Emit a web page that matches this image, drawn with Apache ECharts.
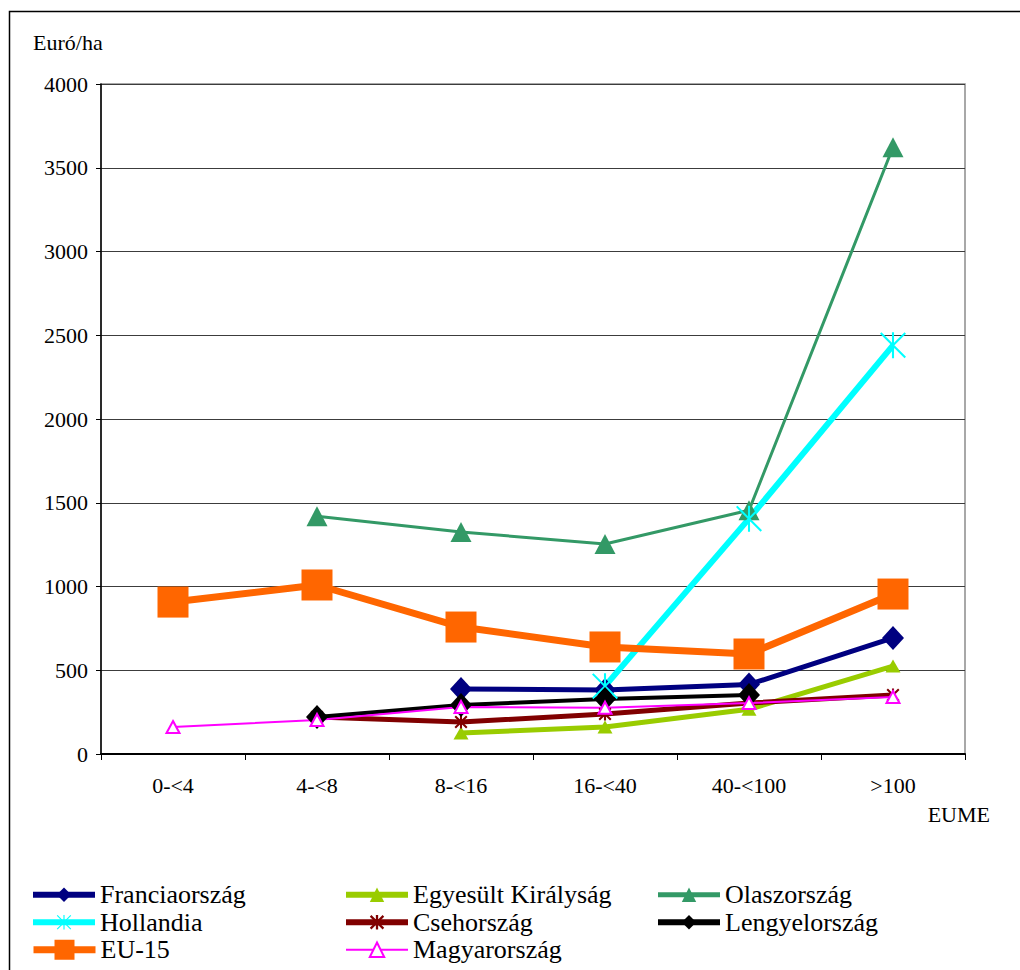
<!DOCTYPE html>
<html>
<head>
<meta charset="utf-8">
<script src="https://cdn.jsdelivr.net/npm/echarts@6/dist/echarts.min.js"></script>
<style>
html,body{margin:0;padding:0;background:#fff;}
#chart{width:1020px;height:970px;}
</style>
</head>
<body>
<div id="chart"></div>
<script>
const categories = ['0-<4', '4-<8', '8-<16', '16-<40', '40-<100', '>100'];
const franciaorszag = [null, null, 388, 382, 415, 693];
const egyesultKiralysag = [null, null, 125, 161, 267, 525];
const olaszorszag = [null, 1420, 1325, 1254, 1455, 3622];
const hollandia = [null, null, null, 405, 1405, 2440];
const csehorszag = [null, 221, 191, 239, 304, 352];
const lengyelorszag = [null, 221, 292, 328, 352, null];
const eu15 = [907, 1009, 758, 639, 597, 955];
const magyarorszag = [161, 203, 281, 276, 304, 340];

const FONT = 'Liberation Serif';
const asterisk = 'path://M46,0L54,0L54,100L46,100Z M0,5.6L5.6,0L100,94.4L94.4,100Z M94.4,0L100,5.6L5.6,100L0,94.4Z';
const asteriskBold = 'path://M42,0L58,0L58,100L42,100Z M0,11L11,0L100,89L89,100Z M89,0L100,11L11,100L0,89Z';

const chart = echarts.init(document.getElementById('chart'), null, {renderer: 'svg'});

function mk(name, data, color, width, symbol, size, extra) {
  return Object.assign({
    name: name, type: 'line', data: data,
    symbol: symbol, symbolSize: size,
    lineStyle: {color: color, width: width},
    itemStyle: {color: color},
    emphasis: {disabled: true},
    animation: false
  }, extra || {});
}

const legendText = {fontFamily: FONT, fontSize: 26, color: '#000', lineHeight: 27.5};
function li(name, w) { return {name: name, lineStyle: {width: w}}; }
const legendBase = {orient: 'vertical', padding: 0, itemWidth: 62, itemHeight: 18, itemGap: 0, textStyle: legendText, selectedMode: false, height: 100};

chart.setOption({
  animation: false,
  backgroundColor: '#fff',
  grid: {left: 101, right: 55, top: 84, bottom: 216, show: true, borderColor: '#8c8c8c', borderWidth: 1.5},
  xAxis: {
    type: 'category', data: categories, boundaryGap: true,
    axisLine: {lineStyle: {color: '#000', width: 2}},
    axisTick: {show: true, length: 6, lineStyle: {color: '#000', width: 1}},
    axisLabel: {fontFamily: FONT, fontSize: 22, color: '#000', margin: 20},
    splitLine: {show: false}
  },
  yAxis: {
    type: 'value', min: 0, max: 4000, interval: 500,
    axisLine: {show: true, lineStyle: {color: '#000', width: 1.5}},
    axisTick: {show: true, length: 5, lineStyle: {color: '#000'}},
    axisLabel: {fontFamily: FONT, fontSize: 22, color: '#000', margin: 13, formatter: function (v) { return String(v); }},
    splitLine: {lineStyle: {color: '#3c3c3c', width: 1}}
  },
  graphic: [
    {type: 'rect', shape: {x: 9.5, y: 11.5, width: 1200, height: 1200}, style: {fill: 'none', stroke: '#000', lineWidth: 1.5}, silent: true, z: -1},
    {type: 'text', left: 33, top: 31, style: {text: 'Euró/ha', fontFamily: FONT, fontSize: 22, fill: '#000'}},
    {type: 'text', right: 30, top: 803, style: {text: 'EUME', fontFamily: FONT, fontSize: 22, fill: '#000'}}
  ],
  legend: [
    Object.assign({}, legendBase, {left: 30, top: 881, data: [li('Franciaország', 6), li('Hollandia', 6)]}),
    Object.assign({}, legendBase, {left: 30, top: 936, itemHeight: 25, data: [li('EU-15', 7)]}),
    Object.assign({}, legendBase, {left: 343, top: 881, data: [li('Egyesült Királyság', 6), li('Csehország', 6), li('Magyarország', 2)]}),
    Object.assign({}, legendBase, {left: 655, top: 881, data: [li('Olaszország', 5), li('Lengyelország', 6)]})
  ],
  series: [
    mk('Franciaország', franciaorszag, '#000080', 5, 'diamond', [22, 24]),
    mk('Egyesült Királyság', egyesultKiralysag, '#99CC00', 5, 'triangle', [15, 13]),
    mk('Olaszország', olaszorszag, '#339966', 3, 'triangle', [21, 20]),
    mk('Hollandia', hollandia, '#00FFFF', 6, asterisk, [26, 26]),
    mk('Csehország', csehorszag, '#800000', 5, asteriskBold, [13, 13]),
    mk('Lengyelország', lengyelorszag, '#000000', 4, 'diamond', [22, 24]),
    mk('EU-15', eu15, '#FF6600', 7, 'rect', [31, 31]),
    mk('Magyarország', magyarorszag, '#FF00FF', 2, 'emptyTriangle', [13, 12], {itemStyle: {color: '#FF00FF', borderWidth: 2}})
  ]
});
</script>
</body>
</html>
